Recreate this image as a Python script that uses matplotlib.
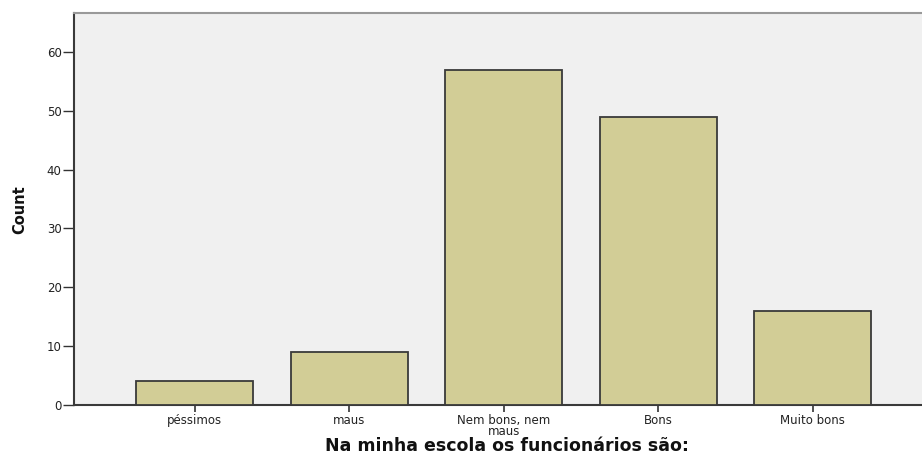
import matplotlib
matplotlib.use("Agg")
import matplotlib.pyplot as plt
from matplotlib import font_manager

categories = ["péssimos", "maus", "Nem bons, nem\nmaus", "Bons", "Muito bons"]
counts = [4, 9, 57, 49, 16]
yticks = [0, 10, 20, 30, 40, 50, 60]

W, H = 922, 457
fig = plt.figure(figsize=(W / 100, H / 100), dpi=100)
left, right, bottom, top = 74, 933, 405, 13
ax = fig.add_axes([left / W, 1 - bottom / H, (right - left) / W, (bottom - top) / H])
ax.set_facecolor("#f0f0f0")

x = list(range(len(categories)))
ax.bar(x, counts, width=0.757, color="#d2cd96", edgecolor="#3a3a3a", linewidth=1.3, zorder=3)

ax.set_xlim(-0.783, 4.78)
ax.set_ylim(0, 66.6)
ax.set_yticks(yticks)
ax.set_xticks(x)
ax.set_xticklabels(categories, fontsize=8.5, color="#222222", linespacing=0.8)
ax.set_yticklabels([str(v) for v in yticks], fontsize=8.5, color="#222222")
ax.tick_params(axis="y", length=8, width=1, color="#333333", pad=1)
ax.tick_params(axis="x", length=5, width=1.2, color="#333333", pad=1.5)

for s in ["left", "bottom"]:
    ax.spines[s].set_color("#3a3a3a")
    ax.spines[s].set_linewidth(1.5)
ax.spines["top"].set_color("#999999")
ax.spines["top"].set_linewidth(1.5)
ax.spines["right"].set_visible(False)

names = {f.name for f in font_manager.fontManager.ttflist}
cfam = "Liberation Sans Narrow" if "Liberation Sans Narrow" in names else "DejaVu Sans"
fig.text(20 / W, 1 - 210 / H, "Count", rotation=90, ha="center", va="center",
         fontsize=10.5, fontweight="bold", family=cfam, color="#111111")
fig.text(507 / W, 1 - 446 / H, "Na minha escola os funcionários são:", ha="center", va="center",
         fontsize=12.5, fontweight="bold", color="#111111")

fig.savefig("out.png", dpi=100)
